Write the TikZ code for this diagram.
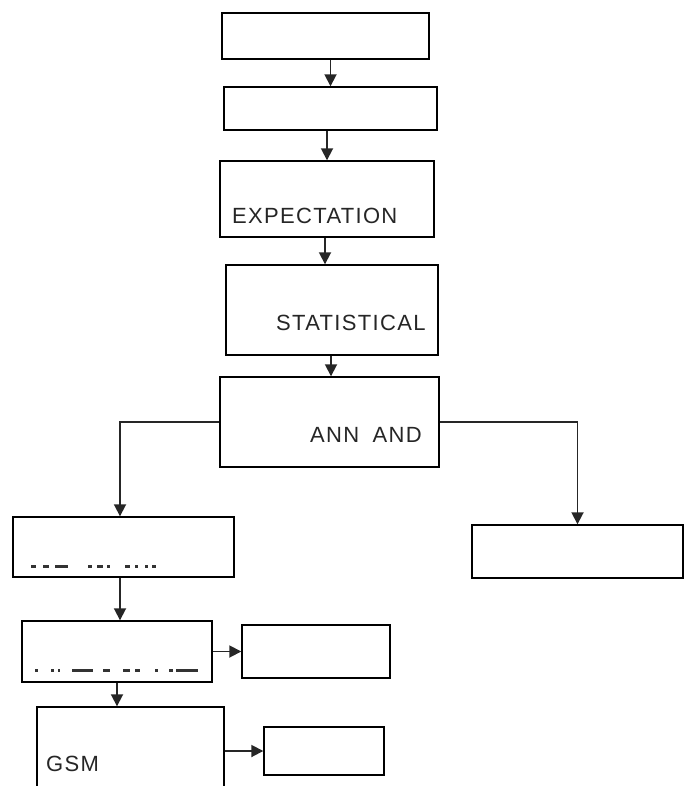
\documentclass[tikz,border=0pt]{standalone}
\usepackage{fontspec}
\setmainfont{Liberation Sans}[LetterSpace=6.0]
\usetikzlibrary{arrows.meta}
\begin{document}
\begin{tikzpicture}[x=1pt,y=-1pt,
  box/.style={draw=black,line width=1.4pt,rectangle,inner sep=0pt,fill=white},
  arr/.style={draw=black!85,line width=1.8pt,-{Triangle[length=12pt,width=12pt]}},
  lbl/.style={inner sep=0pt,anchor=base west,font=\fontsize{22}{26}\selectfont,text=black!85},
  bitmark/.style={fill=black!80,draw=none}]
\useasboundingbox (0,0) rectangle (688,786);
\clip (0,0) rectangle (688,786);
\node[box,minimum width=207pt,minimum height=46pt] (b1) at (325.5,36) {};
\node[box,minimum width=213pt,minimum height=43pt] (b2) at (330.5,108.5) {};
\node[box,minimum width=214pt,minimum height=76pt] (b3) at (327,199) {};
\node[box,minimum width=212pt,minimum height=90pt] (b4) at (332,310) {};
\node[box,minimum width=219pt,minimum height=90pt] (b5) at (329.5,422) {};
\node[box,minimum width=221pt,minimum height=60pt] (b6) at (123.5,547) {};
\node[box,minimum width=211pt,minimum height=53pt] (b7) at (577.5,551.5) {};
\node[box,minimum width=190pt,minimum height=61pt] (b8) at (117,651.5) {};
\node[box,minimum width=148pt,minimum height=53pt] (b9) at (316,651.5) {};
\node[box,minimum width=187pt,minimum height=113pt] (b10) at (130.5,763.5) {};
\node[box,minimum width=120pt,minimum height=48pt] (b11) at (324,751) {};
\node[lbl] (t3) at (232,224) {EXPECTATION};
\node[lbl] (t4) at (276,330) {STATISTICAL};
\node[lbl] (t5) at (310,442) {ANN\hspace{6pt} AND};
\node[lbl] (t10) at (46,771) {GSM};
% clipped text remnants
\foreach \a/\b in {31/36,43/49,55/68,88/92,97/103,107/110,125/130,135/138,145/148,152/156}
  \fill[bitmark] (\a,565) rectangle (\b,568);
\foreach \a/\b in {35/38,51/54,58/60,72/93,103/110,123/130,135/140,155/158,169/173,176/198}
  \fill[bitmark] (\a,668.5) rectangle (\b,671.5);
% connectors
\draw[arr] (b1.south -| b2.north) -- (b2.north);
\draw[arr] (b2.south -| b3.north) -- (b3.north);
\draw[arr] ([xshift=-2pt]b3.south) -- ([xshift=-2pt]b3.south |- b4.north);
\draw[arr] ([xshift=-1pt]b4.south) -- ([xshift=-1pt]b4.south |- b5.north);
\draw[arr] (b5.west) -| ([xshift=-3.5pt]b6.north);
\draw[arr] (b5.east) -| (b7.north);
\draw[arr] ([xshift=-3.5pt]b6.south) -- ([xshift=-3.5pt]b6.south |- b8.north);
\draw[arr] (b8.east) -- (b8.east -| b9.west);
\draw[arr] (b8.south) -- (b8.south |- b10.north);
\draw[arr] (b11.west -| b10.east) -- (b11.west);
\end{tikzpicture}
\end{document}
